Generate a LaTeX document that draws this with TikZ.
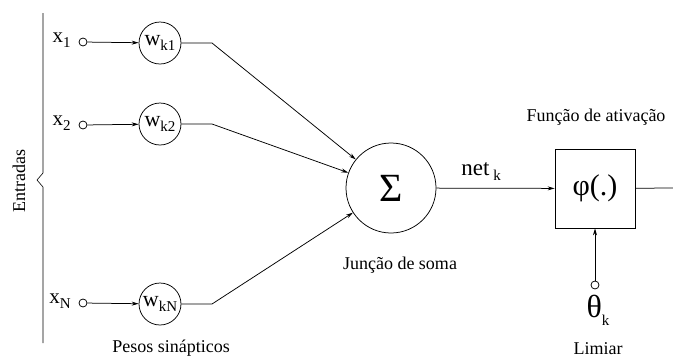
\documentclass[tikz,border=0pt]{standalone}
\usepackage{fontspec}
\setmainfont{Liberation Serif}
\usetikzlibrary{arrows.meta}
\newcommand\lowsub[1]{\raisebox{-0.55ex}{\fontsize{15}{17}\selectfont #1}}
\begin{document}
\begin{tikzpicture}[x=1pt,y=-1pt,
  line width=0.75pt,
  arr/.style={-{Stealth[length=7pt,width=4pt]}},
  term/.style={circle,draw,minimum size=8pt,inner sep=0pt},
  wnode/.style={circle,draw,minimum size=42pt,inner sep=0pt,font=\fontsize{22}{24}\selectfont},
  lbl/.style={font=\fontsize{18}{20}\selectfont,inner sep=0pt}]
\useasboundingbox (0,0) rectangle (673,360);
% inputs bracket
\draw[line width=0.6pt] (43,13) -- (43,173) -- (37,180) -- (43,187) -- (43,343);
\node[lbl,rotate=90] (ent) at (19,181) {Entradas};
% input terminals
\node[term] (t1) at (83,42) {};
\node[term] (t2) at (83,125) {};
\node[term] (tN) at (83,303) {};
\node[anchor=east,inner sep=0pt,font=\fontsize{21}{23}\selectfont] (x1) at (71,40) {x\lowsub{1}};
\node[anchor=east,inner sep=0pt,font=\fontsize{21}{23}\selectfont] (x2) at (71,123) {x\lowsub{2}};
\node[anchor=east,inner sep=0pt,font=\fontsize{21}{23}\selectfont] (xN) at (71,301) {x\lowsub{N}};
% weights
\node[wnode] (w1) at (160,43) {w\lowsub{k1}};
\node[wnode] (w2) at (160,124) {w\lowsub{k2}};
\node[wnode] (wN) at (160,304) {w\lowsub{kN}};
\node[lbl] (pesos) at (171,348) {Pesos sinápticos};
% summing junction
\node[circle,draw,minimum size=90pt,inner sep=0pt,font=\fontsize{40}{42}\selectfont] (sum) at (391,188) {Σ};
\node[lbl] (junc) at (400,265) {Junção de soma};
\coordinate (b1) at (212,43);
\coordinate (b2) at (212,124);
\coordinate (bN) at (212,304);
\draw[arr] (t1) -- (w1);
\draw[arr] (t2) -- (w2);
\draw[arr] (tN) -- (wN);
\draw[arr] (w1) -- (b1) -- (sum);
\draw[arr] (w2) -- (b2) -- (sum);
\draw[arr] (wN) -- (bN) -- (sum);
% activation
\node[draw,minimum width=80pt,minimum height=79pt,inner sep=0pt,font=\fontsize{30}{32}\selectfont] (phi) at (595,188.5) {φ(.)};
\node[lbl] (fat) at (596,117) {Função de ativação};
\draw[arr] (sum) -- (phi);
\node[anchor=base west,inner sep=0pt,font=\fontsize{23}{25}\selectfont] (net) at (461,175) {net\,\lowsub{k}};
\coordinate (out) at (673,188);
\draw (phi) -- (out);
% threshold
\node[term] (tt) at (595,285) {};
\draw[arr] (tt) -- (phi);
\node[inner sep=0pt,font=\fontsize{32}{34}\selectfont] (theta) at (598,310) {θ\lowsub{k}};
\node[lbl] (lim) at (598,349) {Limiar};
\end{tikzpicture}
\end{document}
